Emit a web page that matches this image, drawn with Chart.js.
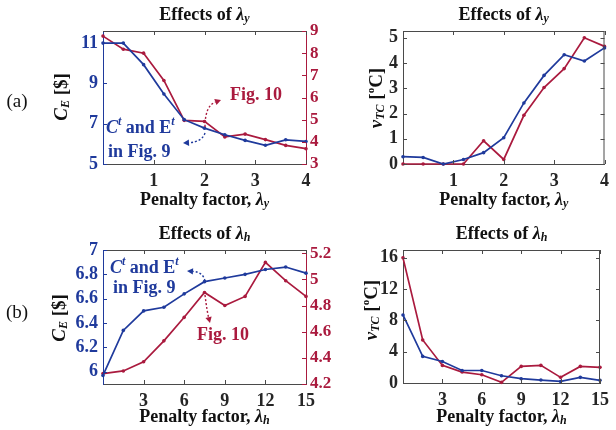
<!DOCTYPE html>
<html lang="en">
<head>
  <meta charset="UTF-8">
  <title>Effects of penalty factors</title>
  <script src="https://cdn.jsdelivr.net/npm/chart.js"></script>
  <style>
    body { margin: 0; background: #fff; }
    #wrap { position: relative; width: 616px; height: 430px; }
    #wrap canvas { position: absolute; }
  </style>
</head>
<body>
  <div id="wrap">
    <canvas id="c1" width="335" height="215" style="left:0;top:0"></canvas>
    <canvas id="c2" width="281" height="215" style="left:335px;top:0"></canvas>
    <canvas id="c3" width="335" height="215" style="left:0;top:215px"></canvas>
    <canvas id="c4" width="281" height="215" style="left:335px;top:215px"></canvas>
  </div>

  <script>
    // penalty factors on the x axes
    const lambdaY = [0, 0.4, 0.8, 1.2, 1.6, 2.0, 2.4, 2.8, 3.2, 3.6, 4.0];
    const lambdaH = [0, 1.5, 3, 4.5, 6, 7.5, 9, 10.5, 12, 13.5, 15];

    // C_E [$] (left axis = Fig. 9 case, right axis = Fig. 10 case)
    const costFig9Y  = [11.0, 11.0, 9.93, 8.47, 7.2, 6.78, 6.45, 6.17, 5.93, 6.2, 6.12];
    const costFig10Y = [8.77, 8.18, 8.0, 6.77, 4.97, 4.92, 4.22, 4.35, 4.1, 3.84, 3.69];
    const costFig9H  = [5.97, 6.34, 6.50, 6.53, 6.64, 6.74, 6.77, 6.80, 6.84, 6.86, 6.81];
    const costFig10H = [4.28, 4.30, 4.37, 4.53, 4.71, 4.90, 4.80, 4.87, 5.13, 4.99, 4.87];

    // v_TC [oC]
    const violFig9Y  = [0.29, 0.26, 0.0, 0.18, 0.45, 1.04, 2.42, 3.51, 4.33, 4.08, 4.6];
    const violFig10Y = [0, 0, 0, 0, 0.92, 0.18, 1.93, 3.03, 3.78, 5.0, 4.66];
    const violFig9H  = [8.7, 3.4, 2.75, 1.6, 1.6, 0.93, 0.55, 0.38, 0.2, 0.72, 0.34];
    const violFig10H = [16.0, 5.5, 2.25, 1.4, 1.06, 0.08, 2.12, 2.25, 0.72, 2.12, 2.0];

    // tick labels
    const ticksLamY = [1, 2, 3, 4];
    const ticksLamH = [3, 6, 9, 12, 15];
    const ticksCostY = [5, 7, 9, 11];
    const ticksCost10Y = [3, 4, 5, 6, 7, 8, 9];
    const ticksCostH = [6, 6.2, 6.4, 6.6, 6.8, 7];
    const ticksCost10H = [4.2, 4.4, 4.6, 4.8, 5, 5.2];
    const ticksViolY = [0, 1, 2, 3, 4, 5];
    const ticksViolH = [0, 4, 8, 12, 16];

    const BLUE = '#1f3a9c';
    const RED = '#aa1a3e';
    const AX = '#4a4a4a';
    const INK = '#262626';
    const SERIF = '"Liberation Serif", "DejaVu Serif", serif';

    function fnt(size, style) {
      return (style || 'bold') + ' ' + size + 'px ' + SERIF;
    }

    // draw a row of text pieces with their own font / baseline shift
    function rich(ctx, parts, x, y, color, align, rot) {
      ctx.save();
      ctx.translate(x, y);
      if (rot) ctx.rotate(rot);
      ctx.fillStyle = color;
      ctx.textBaseline = 'middle';
      ctx.textAlign = 'left';
      let w = 0;
      parts.forEach(p => { ctx.font = fnt(p[1], p[2]); w += ctx.measureText(p[0]).width; });
      let cx = align === 'left' ? 0 : -w / 2;
      parts.forEach(p => {
        ctx.font = fnt(p[1], p[2]);
        ctx.fillText(p[0], cx, p[3] || 0);
        cx += ctx.measureText(p[0]).width;
      });
      ctx.restore();
    }

    function dottedArrow(ctx, color, x0, y0, qx, qy, x1, y1) {
      const a = Math.atan2(y1 - qy, x1 - qx);
      const bx = x1 - 6 * Math.cos(a), by = y1 - 6 * Math.sin(a);
      ctx.save();
      ctx.strokeStyle = color;
      ctx.fillStyle = color;
      ctx.lineWidth = 1.4;
      ctx.setLineDash([2, 2]);
      ctx.beginPath();
      ctx.moveTo(x0, y0);
      ctx.quadraticCurveTo(qx, qy, bx, by);
      ctx.stroke();
      ctx.setLineDash([]);
      ctx.beginPath();
      ctx.moveTo(x1, y1);
      ctx.lineTo(bx + 3.2 * Math.sin(a), by - 3.2 * Math.cos(a));
      ctx.lineTo(bx - 3.2 * Math.sin(a), by + 3.2 * Math.cos(a));
      ctx.closePath();
      ctx.fill();
      ctx.restore();
    }

    function titleParts(sub) {
      return [['Effects of ', 18], ['\u03bb', 18, 'italic bold'], [sub, 12, 'italic bold', 4]];
    }
    function xTitleParts(sub) {
      return [['Penalty factor, ', 18], ['\u03bb', 18, 'italic bold'], [sub, 12, 'italic bold', 4]];
    }
    const costLabel = [['C', 19, 'italic bold'], ['E', 12, 'italic bold', 4], [' [$]', 19]];
    const violLabel = [['v', 19, 'italic bold'], ['TC', 12, 'italic bold', 4], [' [', 19], ['o', 11, 'bold', -6], ['C]', 19]];
    const fig9Parts = [['C', 18, 'italic bold'], ['t', 12, 'italic bold', -6], [' and E', 18], ['t', 12, 'italic bold', -6]];

    // box, inward ticks, titles and notes
    const frame = {
      id: 'frame',
      afterDraw(chart, args, o) {
        const { ctx, chartArea: a, scales } = chart;
        ctx.save();
        ctx.lineWidth = 1;
        const seg = (x0, y0, x1, y1, c) => {
          ctx.strokeStyle = c;
          ctx.beginPath(); ctx.moveTo(x0, y0); ctx.lineTo(x1, y1); ctx.stroke();
        };
        seg(a.left, a.top + 0.5, a.right, a.top + 0.5, AX);
        if (!scales.y2) seg(a.right - 0.5, a.top, a.right - 0.5, a.bottom, AX);
        scales.x.ticks.forEach(t => {
          const px = Math.round(scales.x.getPixelForValue(t.value)) + 0.5;
          seg(px, a.bottom, px, a.bottom - 4, AX);
          seg(px, a.top, px, a.top + 4, AX);
        });
        scales.y.ticks.forEach(t => {
          const py = Math.round(scales.y.getPixelForValue(t.value)) + 0.5;
          seg(a.left, py, a.left + 4, py, o.leftColor);
          if (!scales.y2) seg(a.right, py, a.right - 4, py, AX);
        });
        if (scales.y2) {
          scales.y2.ticks.forEach(t => {
            const py = Math.round(scales.y2.getPixelForValue(t.value)) + 0.5;
            seg(a.right, py, a.right - 4, py, RED);
          });
        }
        ctx.restore();
        const mid = (a.left + a.right) / 2;
        rich(ctx, titleParts(o.sub), mid, a.top - 16, '#111');
        rich(ctx, xTitleParts(o.sub), mid, o.xTitleY, '#111');
        rich(ctx, o.yLabel, o.yLabelX, o.yLabelY, '#111', 'center', -Math.PI / 2);
        if (o.extra) o.extra(ctx, chart);
      }
    };

    function panel(id, spec) {
      const cv = document.getElementById(id);
      const W = cv.width, H = cv.height;
      const A = spec.area; // [left, top, right, bottom]
      const L = 50, R = spec.y2 ? 25 : 0, B = 40;
      const tickFont = { family: SERIF, size: 18, weight: 'bold' };
      const fmt = v => String(+(+v).toFixed(1));
      const scales = {
        x: {
          type: 'linear', min: spec.xMin, max: spec.xMax,
          afterBuildTicks: s => { s.ticks = spec.xTicks.map(v => ({ value: v })); },
          afterFit: s => { s.height = B; },
          grid: { display: false, drawTicks: false },
          border: { color: AX, width: 1 },
          ticks: { font: tickFont, color: INK, padding: 7, maxRotation: 0, autoSkip: false, callback: fmt }
        },
        y: {
          type: 'linear', position: 'left', min: spec.y.min, max: spec.y.max,
          afterBuildTicks: s => { s.ticks = spec.y.ticks.map(v => ({ value: v })); },
          afterFit: s => { s.width = L; },
          grid: { display: false, drawTicks: false },
          border: { color: spec.y.color === INK ? AX : spec.y.color, width: 1 },
          ticks: { font: tickFont, color: spec.y.color, padding: 5, autoSkip: false, callback: fmt }
        }
      };
      if (spec.y2) {
        scales.y2 = {
          type: 'linear', position: 'right', min: spec.y2.min, max: spec.y2.max,
          afterBuildTicks: s => { s.ticks = spec.y2.ticks.map(v => ({ value: v })); },
          afterFit: s => { s.width = R; },
          grid: { display: false, drawTicks: false },
          border: { color: RED, width: 1 },
          ticks: { font: { family: SERIF, size: 17, weight: 'bold' }, color: RED, padding: 4, autoSkip: false, callback: fmt }
        };
      }
      new Chart(cv, {
        type: 'line',
        data: {
          datasets: spec.series.map(s => ({
            data: spec.x.map((v, i) => ({ x: v, y: s.values[i] })),
            yAxisID: s.axis,
            borderColor: s.color,
            backgroundColor: s.color,
            borderWidth: 1.7,
            pointRadius: 1.8,
            pointHoverRadius: 1.8,
            pointBorderWidth: 0,
            tension: 0,
            clip: false
          }))
        },
        options: {
          responsive: false,
          animation: false,
          devicePixelRatio: 1,
          events: [],
          layout: {
            padding: { left: A[0] - L, top: A[1], right: W - A[2] - R, bottom: H - A[3] - B }
          },
          scales: scales,
          plugins: {
            legend: { display: false },
            tooltip: { enabled: false },
            frame: spec.frame
          }
        },
        plugins: [frame]
      });
    }

    // (a) cost vs lambda_y
    panel('c1', {
      area: [103, 31, 306, 164],
      x: lambdaY, xMin: 0, xMax: 4, xTicks: ticksLamY,
      y: { min: 5, max: 11.6, ticks: ticksCostY, color: BLUE },
      y2: { min: 3, max: 9, ticks: ticksCost10Y },
      series: [
        { values: costFig9Y, axis: 'y', color: BLUE },
        { values: costFig10Y, axis: 'y2', color: RED }
      ],
      frame: {
        sub: 'y', xTitleY: 200, yLabel: costLabel, yLabelX: 62, yLabelY: 97, leftColor: BLUE,
        extra: (ctx) => {
          rich(ctx, [['(a)', 19, 'normal']], 17, 102, '#111');
          rich(ctx, [['Fig. 10', 18]], 230, 95, RED, 'left');
          rich(ctx, fig9Parts, 106, 128, BLUE, 'left');
          rich(ctx, [['in Fig. 9', 18]], 108, 152, BLUE, 'left');
          dottedArrow(ctx, RED, 205, 127, 205, 106, 221, 100);
          dottedArrow(ctx, BLUE, 205, 133, 202, 142, 183, 143);
        }
      }
    });

    // (a) violation vs lambda_y
    panel('c2', {
      area: [68, 31, 271, 164],
      x: lambdaY, xMin: 0, xMax: 4, xTicks: ticksLamY,
      y: { min: 0, max: 5.27, ticks: ticksViolY, color: INK },
      series: [
        { values: violFig9Y, axis: 'y', color: BLUE },
        { values: violFig10Y, axis: 'y', color: RED }
      ],
      frame: { sub: 'y', xTitleY: 200, yLabel: violLabel, yLabelX: 42, yLabelY: 98, leftColor: AX }
    });

    // (b) cost vs lambda_h
    panel('c3', {
      area: [103, 35, 306, 169],
      x: lambdaH, xMin: 0, xMax: 15, xTicks: ticksLamH,
      y: { min: 5.9, max: 7.0, ticks: ticksCostH, color: BLUE },
      y2: { min: 4.2, max: 5.225, ticks: ticksCost10H },
      series: [
        { values: costFig9H, axis: 'y', color: BLUE },
        { values: costFig10H, axis: 'y2', color: RED }
      ],
      frame: {
        sub: 'h', xTitleY: 202, yLabel: costLabel, yLabelX: 60, yLabelY: 103, leftColor: BLUE,
        extra: (ctx) => {
          rich(ctx, [['(b)', 19, 'normal']], 17, 98, '#111');
          rich(ctx, fig9Parts, 110, 53, BLUE, 'left');
          rich(ctx, [['in Fig. 9', 18]], 113, 73, BLUE, 'left');
          rich(ctx, [['Fig. 10', 18]], 197, 120, RED, 'left');
          dottedArrow(ctx, BLUE, 205, 66, 203, 57, 187, 56);
          dottedArrow(ctx, RED, 205, 80, 207, 96, 210, 108);
        }
      }
    });

    // (b) violation vs lambda_h
    panel('c4', {
      area: [68, 35, 271, 168],
      x: lambdaH, xMin: 0, xMax: 15, xTicks: ticksLamH,
      y: { min: 0, max: 17, ticks: ticksViolH, color: INK },
      series: [
        { values: violFig9H, axis: 'y', color: BLUE },
        { values: violFig10H, axis: 'y', color: RED }
      ],
      frame: { sub: 'h', xTitleY: 202, yLabel: violLabel, yLabelX: 37, yLabelY: 95, leftColor: AX }
    });
  </script>
</body>
</html>
